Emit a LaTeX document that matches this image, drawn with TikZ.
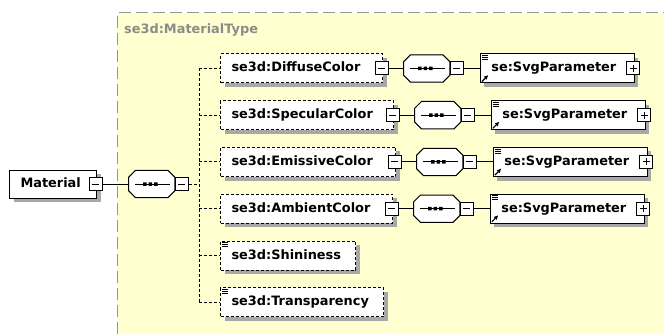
\documentclass[tikz,border=0pt]{standalone}
\usepackage{fontspec}
\setmainfont{DejaVu Sans}
\usetikzlibrary{shadows,calc,arrows.meta}

\definecolor{areabg}{RGB}{255,255,208}
\definecolor{arealine}{RGB}{150,150,150}
\definecolor{shade}{RGB}{168,168,168}
\definecolor{titlegray}{RGB}{140,140,140}

% octagonal sequence compositor drawn round a (borderless) node
\newcommand\seqoctagon[1]{%
  \def\octpath{($(#1.north west)+(7,0)$) -- ($(#1.north east)+(-7,0)$)
    -- ($(#1.north east)+(0,7)$) -- ($(#1.south east)+(0,-7)$)
    -- ($(#1.south east)+(-7,0)$) -- ($(#1.south west)+(7,0)$)
    -- ($(#1.south west)+(0,-7)$) -- ($(#1.north west)+(0,7)$) -- cycle}%
  \fill[shade, shift={(4,4)}] \octpath;
  \draw[line width=1pt, fill=white] \octpath;
  \draw[line width=1pt] ($(#1.west)+(6,0)$) -- ($(#1.east)+(-5,0)$);
  \fill[black, shift={(#1.center)}]
    (-8.5,-1.75) rectangle (-5,1.75) (-3,-1.75) rectangle (0.5,1.75) (2.5,-1.75) rectangle (6,1.75);}

\begin{document}
\begin{tikzpicture}[x=1pt,y=-1pt,
  font=\bfseries\fontsize{12.9}{15}\selectfont,
  boxshadow/.style={drop shadow={shadow xshift=4pt,shadow yshift=-4pt,fill=shade,opacity=1}},
  elembase/.style={rectangle, draw=black, fill=white, line width=1pt,
    minimum height=29pt, inner xsep=11pt, inner ysep=0pt,
    text height=10pt, text depth=3pt, align=left, anchor=west, boxshadow},
  optelem/.style={elembase, dash pattern=on 3pt off 2pt},
  reqelem/.style={elembase},
  boxframe/.style={rectangle, draw=black, fill=white, minimum size=13pt, inner sep=0pt,
    line width=1pt},
  minusbox/.style={boxframe,
    path picture={\draw[line width=1pt] ([xshift=3pt]path picture bounding box.west)
      -- ([xshift=-3pt]path picture bounding box.east);}},
  plusbox/.style={boxframe,
    path picture={\draw[line width=1pt] ([xshift=3pt]path picture bounding box.west)
      -- ([xshift=-3pt]path picture bounding box.east)
      ([yshift=3pt]path picture bounding box.south)
      -- ([yshift=-3pt]path picture bounding box.north);}},
  seqbox/.style={rectangle, minimum width=46pt, minimum height=27pt, inner sep=0pt},
  link/.style={line width=1pt},
  optlink/.style={line width=1pt, dash pattern=on 3pt off 2pt},
  iconline/.style={line width=0.9pt},
]
\useasboundingbox (0,0) rectangle (664,334);

% complex type area
\fill[areabg] (117,13) rectangle (664,334);
\draw[arealine, line width=1pt, dash pattern=on 12pt off 5pt] (117,334) -- (117,13) -- (664,13);
\node[anchor=west, text=titlegray, inner sep=0pt] (title) at (124,30) {se3d:MaterialType};

% root element and its sequence
\node[reqelem, minimum height=28pt, text width=65pt] (mat) at (9,184) {Material};
\node[minusbox] (matm) at ($(mat.east)+(-1.5,0)$) {};
\node[seqbox, anchor=west] (seq) at ($(matm.east)+(26,0)$) {};
\seqoctagon{seq}
\node[minusbox, anchor=west] (seqm) at (seq.east) {};
\coordinate (jm) at (199,184);
\draw[link] (matm) -- (seq);
\draw[optlink] (seqm.east) -- (jm);

% children with their own sequence of se:SvgParameter
\foreach \i/\lab/\tw/\yy in {1/DiffuseColor/140/68.5, 2/SpecularColor/151/115.2,
                              3/EmissiveColor/153/162, 4/AmbientColor/150/208.7}{
  \coordinate (j\i) at (199,\yy);
  \node[optelem, text width=\tw pt] (e\i) at (220,\yy) {se3d:\lab};
  \draw[optlink] (j\i) -- (e\i.west);
  \node[minusbox] (em\i) at ($(e\i.east)+(-1.5,0)$) {};
  \node[seqbox, anchor=west] (s\i) at ($(em\i.east)+(15,0)$) {};
  \seqoctagon{s\i}
  \node[minusbox, anchor=west] (sm\i) at (s\i.east) {};
  \node[reqelem, text width=132pt] (p\i) at ($(sm\i.east)+(16,0)$) {se:SvgParameter};
  \node[plusbox] (pp\i) at ($(p\i.east)+(-1.5,0)$) {};
  \draw[link] (em\i) -- (s\i);
  \draw[link] (sm\i) -- (p\i);
  \draw[iconline] ($(p\i.north west)+(2,2)$) -- +(6,0)
                  ($(p\i.north west)+(2,4)$) -- +(6,0)
                  ($(p\i.north west)+(2,6)$) -- +(6,0);
  \draw[line width=1.2pt, -{Latex[length=4.5pt,width=4.5pt]}]
    ($(p\i.south west)+(2,-2)$) -- ($(p\i.south west)+(8.5,-8.5)$);
}

% simple-typed children
\foreach \i/\lab/\tw/\yy in {5/Shininess/113/255.5, 6/Transparency/141/302.2}{
  \coordinate (j\i) at (199,\yy);
  \node[optelem, text width=\tw pt] (e\i) at (220,\yy) {se3d:\lab};
  \draw[optlink] (j\i) -- (e\i.west);
  \draw[iconline] ($(e\i.north west)+(2,2)$) -- +(6,0)
                  ($(e\i.north west)+(2,4)$) -- +(6,0)
                  ($(e\i.north west)+(2,6)$) -- +(6,0);
}

\draw[optlink] (j1) -- (j6);
\end{tikzpicture}
\end{document}
